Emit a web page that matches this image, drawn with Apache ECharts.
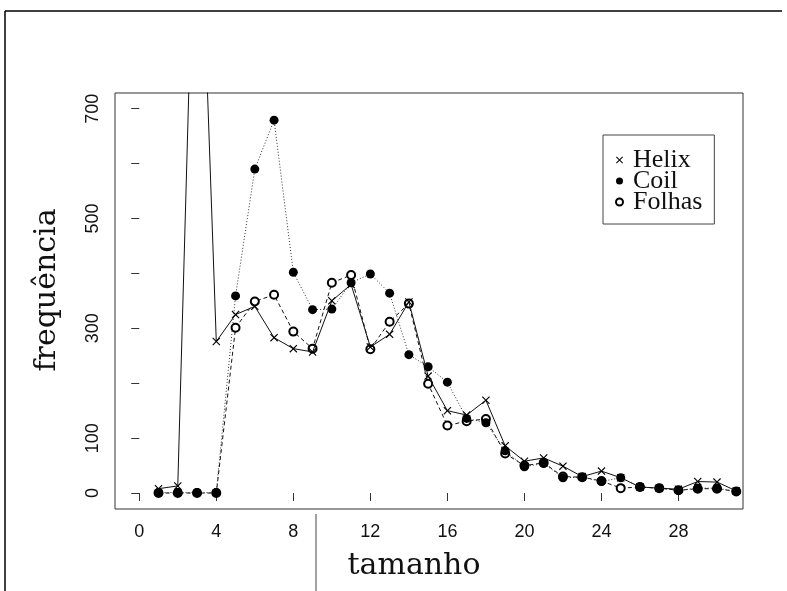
<!DOCTYPE html>
<html>
<head>
<meta charset="utf-8">
<script src="https://cdn.jsdelivr.net/npm/echarts@6/dist/echarts.min.js"></script>
<style>html,body{margin:0;padding:0;background:#fff;}#c{width:787px;height:591px;}</style>
</head>
<body>
<div id="c"></div>
<script>
const tamanho = [1,2,3,4,5,6,7,8,9,10,11,12,13,14,15,16,17,18,19,20,21,22,23,24,25,26,27,28,29,30,31];
const helix  = [8,13,1270,276,325,340,283,263,257,350,380,266,289,348,213,150,142,169,86,58,64,49,30,40,28,11,9,7,21,20,4];
const coil   = [1,1,1,1,359,590,679,402,334,335,383,399,364,252,230,202,136,128,77,48,54,28,29,21,28,11,9,5,9,9,3];
const folhas = [0,0,0,0,301,349,361,294,263,383,397,262,312,345,199,123,131,135,72,50,55,30,29,22,9,11,9,5,8,8,3];
const xTicks = [0,4,8,12,16,20,24,28];
const yTicks = [0,100,200,300,400,500,600,700];
const yLabels = [0,100,300,500,700];
const seriesNames = ['Helix','Coil','Folhas'];

const xPath = 'path://M0,1L1,0L5,4L9,0L10,1L6,5L10,9L9,10L5,6L1,10L0,9L4,5Z';
const pairs = v => tamanho.map((t,i)=>[t,v[i]]);
const sans = "'Liberation Sans', Arial, sans-serif";

const chart = echarts.init(document.getElementById('c'), null, {renderer:'canvas'});
chart.setOption({
  backgroundColor:'#fff',
  animation:false,
  grid:{left:115,right:44,top:93,bottom:82,show:true,borderColor:'#333',borderWidth:1,backgroundColor:'transparent'},
  xAxis:{type:'value',min:-1.26,max:31.35,
    axisLine:{show:false},splitLine:{show:false},
    axisTick:{show:true,length:8,inside:false,customValues:xTicks,lineStyle:{color:'#333'}},
    axisLabel:{customValues:xTicks,margin:14,color:'#111',fontFamily:sans,fontSize:18}},
  yAxis:{type:'value',min:-29,max:728.5,
    axisLine:{show:false},splitLine:{show:false},
    axisTick:{show:true,length:8,inside:false,customValues:yTicks,lineStyle:{color:'#333'}},
    axisLabel:{customValues:yLabels,rotate:90,margin:13,color:'#111',fontFamily:sans,fontSize:18}},
  legend:{
    data:[{name:'Helix',icon:xPath},{name:'Coil',icon:'circle'},{name:'Folhas',icon:'emptyCircle'}],
    orient:'vertical',left:603,top:135,
    itemWidth:7,itemHeight:7,itemGap:-5,
    padding:[12,12,9,12],
    borderColor:'#444',borderWidth:1,
    selectedMode:false,
    textStyle:{fontFamily:"'Liberation Serif', 'Times New Roman', serif",fontSize:26,color:'#111',padding:[0,0,0,5]}
  },
  graphic:[
    {type:'line',shape:{x1:5,y1:11,x2:782,y2:11},style:{stroke:'#000',lineWidth:1.5},silent:true},
    {type:'line',shape:{x1:5,y1:11,x2:5,y2:591},style:{stroke:'#000',lineWidth:1.5},silent:true},
    {type:'line',shape:{x1:316,y1:514,x2:316,y2:591},style:{stroke:'#444',lineWidth:1},silent:true},
    {type:'text',x:414,y:566,style:{text:'tamanho',font:'30px "DejaVu Serif", serif',fill:'#111',textAlign:'center',textVerticalAlign:'middle'},silent:true},
    {type:'text',x:47,y:290,rotation:Math.PI/2,style:{text:'frequência',font:'30px "DejaVu Serif", serif',fill:'#111',textAlign:'center',textVerticalAlign:'middle'},silent:true}
  ],
  series:[
    {name:'Folhas',type:'line',data:pairs(folhas),symbol:'emptyCircle',symbolSize:8,z:2,
      itemStyle:{color:'#000',borderWidth:1},lineStyle:{color:'#111',width:1,type:[4,3]}},
    {name:'Coil',type:'line',data:pairs(coil),symbol:'circle',symbolSize:9,z:3,
      itemStyle:{color:'#000'},lineStyle:{color:'#333',width:1,type:[1,2]}},
    {name:'Helix',type:'line',data:pairs(helix),symbol:xPath,symbolSize:8,z:4,
      itemStyle:{color:'#000'},lineStyle:{color:'#111',width:1,type:'solid'}}
  ]
});
</script>
</body>
</html>
